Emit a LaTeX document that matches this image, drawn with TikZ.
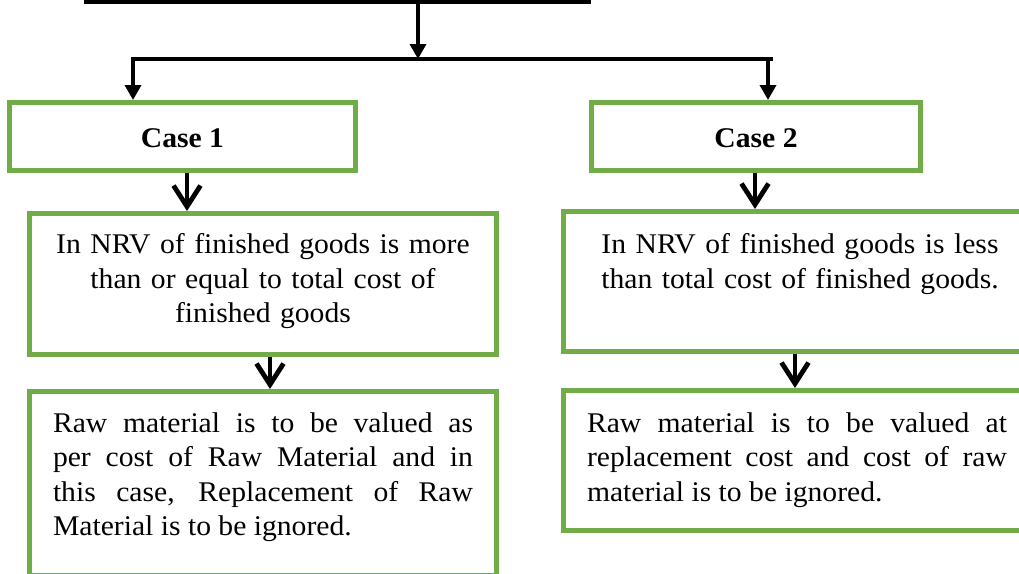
\documentclass[tikz,border=0pt]{standalone}
\usepackage{fontspec}
\setmainfont{Liberation Serif}[FakeStretch=1.04]
\usetikzlibrary{arrows.meta}
\definecolor{boxgreen}{HTML}{70AD47}

\begin{document}
\begin{tikzpicture}[x=1pt,y=-1pt,
  box/.style={draw=boxgreen, line width=5pt, rectangle, inner sep=0pt},
  feed/.style={draw=black, line width=3.5pt, line join=miter},
  feedarrow/.style={feed, -{Triangle[length=15pt,width=16pt]}},
  stepdown/.style={draw=black, line width=4.8pt, -{Straight Barb[length=21pt,width=27pt]}},
  body/.style={font=\fontsize{28.5}{34.5}\selectfont, inner sep=0pt, anchor=north},
  casetitle/.style={font=\fontsize{28.5}{32}\selectfont\bfseries, text height=22pt, text depth=0pt},
]
\useasboundingbox (0,0) rectangle (1019,573);
\fill[white] (0,0) rectangle (1019,573);

% heading box (only its lower edge falls inside the page)
\node[draw=black, line width=3.5pt, inner sep=0pt,
      minimum width=503pt, minimum height=80pt] (head) at (337.5,-38) {};

% case boxes
\node[box, casetitle, minimum width=346pt, minimum height=68pt] (case1) at (182.5,136.5) {Case 1};
\node[box, casetitle, minimum width=329pt, minimum height=68pt] (case2) at (756,136.5) {Case 2};

% condition boxes
\node[box, minimum width=467pt, minimum height=141pt] (nrv1) at (263,284) {};
\node[box, minimum width=467pt, minimum height=140pt] (nrv2) at (797,281.5) {};

% valuation boxes
\node[box, minimum width=467pt, minimum height=183.5pt] (raw1) at (263,483.25) {};
\node[box, minimum width=467pt, minimum height=140pt] (raw2) at (797,460.5) {};

% texts
\node[body, text width=440pt, align=center] (nrv1text) at (263,233.5)
  {In NRV of finished goods is more\\ than or equal to total cost of\\ finished goods};
\node[body, text width=440pt, align=center] (nrv2text) at (800,233.5)
  {In NRV of finished goods is less\\ than total cost of finished goods.};
\node[body, text width=420pt, align=justify] (raw1text) at (263,412.5)
  {Raw material is to be valued as\linebreak
   per cost of Raw Material and in\linebreak
   this case, Replacement of Raw\linebreak
   Material is to be ignored.};
\node[body, text width=420pt, align=justify] (raw2text) at (797,412.5)
  {Raw material is to be valued at\linebreak
   replacement cost and cost of raw\linebreak
   material is to be ignored.};

% branching connectors
\coordinate (split) at (418,59);
\coordinate (leftend) at (133,59);
\coordinate (rightend) at (773,59);
\coordinate (rightdrop) at (768,59);
\draw[feedarrow] (head.south -| split) -- (split);
\draw[feedarrow] (rightend) -- (leftend) -- (leftend |- case1.north);
\draw[feedarrow] (rightdrop) -- (rightdrop |- case2.north);

% step arrows
\coordinate (x1) at (187,0);
\coordinate (x2) at (270,0);
\coordinate (x3) at (755,0);
\coordinate (x4) at (795,0);
\draw[stepdown] (case1.south -| x1) -- (nrv1.north -| x1);
\draw[stepdown] (nrv1.south -| x2) -- (raw1.north -| x2);
\draw[stepdown] (case2.south -| x3) -- (nrv2.north -| x3);
\draw[stepdown] (nrv2.south -| x4) -- (raw2.north -| x4);
\end{tikzpicture}
\end{document}
